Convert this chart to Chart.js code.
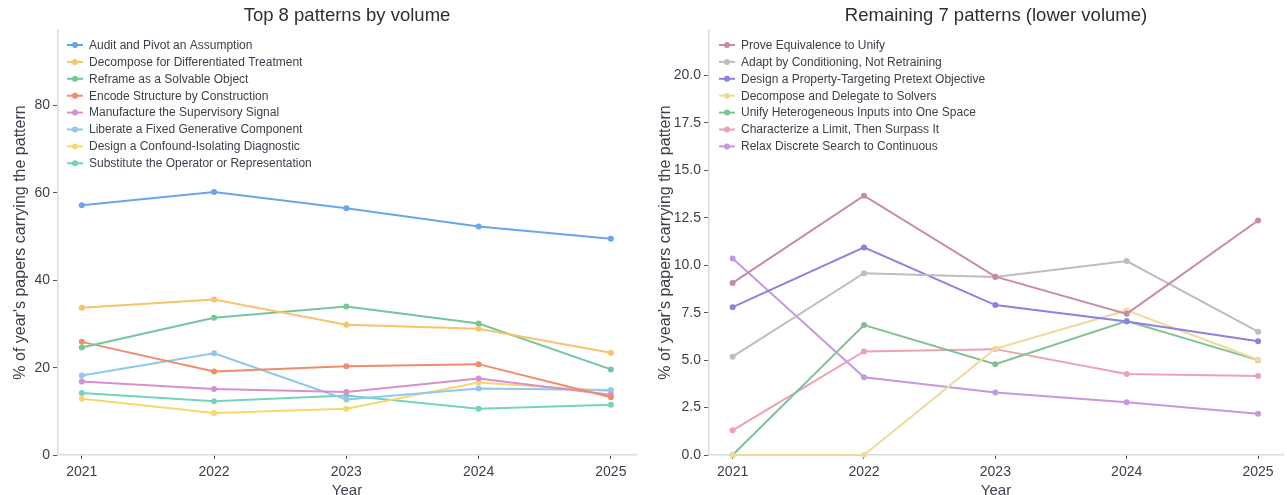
<!DOCTYPE html>
<html>
<head>
<meta charset="utf-8">
<script src="https://cdn.jsdelivr.net/npm/chart.js@4/dist/chart.umd.min.js"></script>
<style>
  body { margin: 0; background: #fff; }
  .wrap { display: flex; width: 1287px; height: 495px; }
  .left { position: relative; width: 645px; height: 495px; }
  .right { position: relative; width: 642px; height: 495px; }
</style>
</head>
<body>
<div class="wrap">
  <div class="left"><canvas id="topChart"></canvas></div>
  <div class="right"><canvas id="restChart"></canvas></div>
</div>
<script>
const YEARS = [2021, 2022, 2023, 2024, 2025];
const TOP_TICKS = [0, 20, 40, 60, 80];
const REST_TICKS = [0, 2.5, 5, 7.5, 10, 12.5, 15, 17.5, 20];

const TOP_LABELS = [
  "Audit and Pivot an Assumption",
  "Decompose for Differentiated Treatment",
  "Reframe as a Solvable Object",
  "Encode Structure by Construction",
  "Manufacture the Supervisory Signal",
  "Liberate a Fixed Generative Component",
  "Design a Confound-Isolating Diagnostic",
  "Substitute the Operator or Representation",
];
const TOP_COLORS = ["#6aa4ee", "#f7c46c", "#74c69d", "#f08c6c", "#d690cf", "#8fc7ee", "#f6d76e", "#74d3be"];
const AUDIT = [57.2, 60.2, 56.5, 52.3, 49.5];
const DECOMPOSE_DIFF = [33.7, 35.6, 29.8, 28.9, 23.4];
const REFRAME = [24.6, 31.4, 34.0, 30.1, 19.6];
const ENCODE = [25.9, 19.1, 20.3, 20.8, 13.2];
const MANUFACTURE = [16.8, 15.1, 14.4, 17.5, 13.8];
const LIBERATE = [18.2, 23.3, 12.7, 15.2, 14.9];
const CONFOUND = [12.9, 9.6, 10.6, 16.6, 14.6];
const SUBSTITUTE = [14.2, 12.3, 13.6, 10.6, 11.5];

const REST_LABELS = [
  "Prove Equivalence to Unify",
  "Adapt by Conditioning, Not Retraining",
  "Design a Property-Targeting Pretext Objective",
  "Decompose and Delegate to Solvers",
  "Unify Heterogeneous Inputs into One Space",
  "Characterize a Limit, Then Surpass It",
  "Relax Discrete Search to Continuous",
];
const REST_COLORS = ["#c98aa8", "#bdbdbd", "#8d80e2", "#eedb9a", "#82c096", "#eda1b3", "#c598e0"];
const PROVE = [9.07, 13.67, 9.40, 7.44, 12.36];
const ADAPT = [5.18, 9.58, 9.38, 10.22, 6.50];
const PRETEXT = [7.79, 10.94, 7.90, 7.04, 6.0];
const DELEGATE = [0, 0, 5.60, 7.62, 5.02];
const UNIFY = [0, 6.85, 4.78, 7.06, 5.0];
const LIMIT = [1.30, 5.46, 5.58, 4.27, 4.17];
const RELAX = [10.36, 4.10, 3.29, 2.78, 2.17];

const FONT = "'Liberation Sans', Arial, sans-serif";
const TEXT = "#3a3f4a";

// 범례를 차트 안쪽 좌상단에 그림
const innerLegend = {
  id: "innerLegend",
  afterDraw(chart, args, opts) {
    const c = chart.ctx;
    const x0 = chart.chartArea.left + opts.dx;
    let y = chart.chartArea.top + 15;
    c.save();
    c.font = "12px " + FONT;
    c.textBaseline = "middle";
    chart.data.datasets.forEach((ds) => {
      c.strokeStyle = ds.borderColor;
      c.lineWidth = 2;
      c.beginPath();
      c.moveTo(x0, y);
      c.lineTo(x0 + 16, y);
      c.stroke();
      c.fillStyle = ds.borderColor;
      c.beginPath();
      c.arc(x0 + 8, y, 3, 0, Math.PI * 2);
      c.fill();
      c.fillStyle = TEXT;
      c.fillText(ds.label, x0 + 22, y + 0.5);
      y += 16.9;
    });
    c.restore();
  },
};

const makeSets = (labels, colors, series) =>
  series.map((vals, i) => ({
    label: labels[i],
    data: vals.map((v, j) => ({ x: YEARS[j], y: v })),
    borderColor: colors[i],
    backgroundColor: colors[i],
    borderWidth: 2,
    pointRadius: 3,
    pointBorderWidth: 0,
    tension: 0,
    clip: false,
  }));

const makeChart = (id, title, sets, ticks, yMax, yWidth, padRight, legendDx, fmt) =>
  new Chart(document.getElementById(id), {
    type: "line",
    data: { datasets: sets },
    options: {
      responsive: true,
      maintainAspectRatio: false,
      animation: false,
      layout: { padding: { top: 0, right: padRight, bottom: 0, left: 0 } },
      plugins: {
        legend: { display: false },
        tooltip: { enabled: false },
        title: {
          display: true,
          fullSize: false,
          text: title,
          color: "#2b2f36",
          font: { family: FONT, size: 18.5, weight: "normal", lineHeight: 1.2 },
          padding: { top: 5, bottom: 2.8 },
        },
        innerLegend: { dx: legendDx },
      },
      scales: {
        x: {
          type: "linear",
          min: 2020.82,
          max: 2025.19,
          afterBuildTicks: (s) => { s.ticks = YEARS.map((v) => ({ value: v })); },
          afterFit: (s) => { s.height = 40; },
          ticks: {
            color: TEXT,
            font: { family: FONT, size: 14 },
            padding: 5,
            callback: (v) => String(v),
          },
          grid: { drawOnChartArea: false, drawTicks: true, tickLength: 4, color: "#555" },
          border: { color: "#d5dce6", width: 1.5 },
          title: {
            display: true,
            text: "Year",
            color: TEXT,
            font: { family: FONT, size: 15, lineHeight: 1 },
            padding: { top: 0, bottom: -3 },
          },
        },
        y: {
          min: 0,
          max: yMax,
          afterBuildTicks: (s) => { s.ticks = ticks.map((v) => ({ value: v })); },
          afterFit: (s) => { s.width = yWidth; },
          ticks: {
            color: TEXT,
            font: { family: FONT, size: 14 },
            padding: 3,
            callback: fmt,
          },
          grid: { drawOnChartArea: false, drawTicks: true, tickLength: 5, color: "#555" },
          border: { color: "#d5dce6", width: 1.5 },
          title: {
            display: true,
            text: "% of year's papers carrying the pattern",
            color: TEXT,
            font: { family: FONT, size: 16 },
            padding: { top: 11, bottom: 0 },
          },
        },
      },
    },
    plugins: [innerLegend],
  });

makeChart(
  "topChart",
  "Top 8 patterns by volume",
  makeSets(TOP_LABELS, TOP_COLORS, [AUDIT, DECOMPOSE_DIFF, REFRAME, ENCODE, MANUFACTURE, LIBERATE, CONFOUND, SUBSTITUTE]),
  TOP_TICKS,
  97.3,
  58,
  9,
  9,
  (v) => String(v)
);

makeChart(
  "restChart",
  "Remaining 7 patterns (lower volume)",
  makeSets(REST_LABELS, REST_COLORS, [PROVE, ADAPT, PRETEXT, DELEGATE, UNIFY, LIMIT, RELAX]),
  REST_TICKS,
  22.4,
  64,
  2,
  10,
  (v) => v.toFixed(1)
);
</script>
</body>
</html>
